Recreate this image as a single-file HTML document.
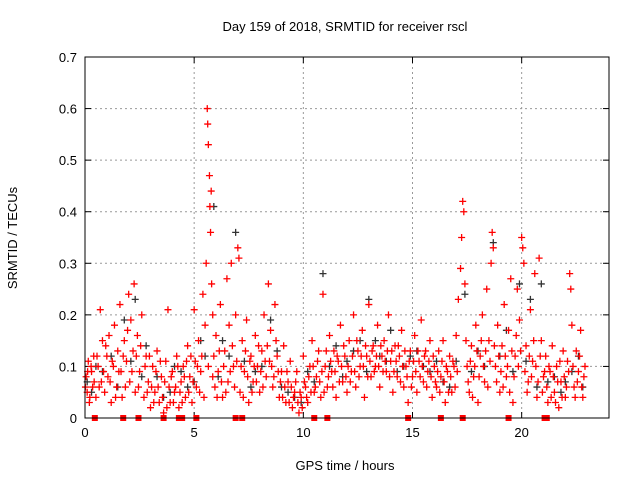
<!DOCTYPE html>
<html><head><meta charset="utf-8">
<style>
html,body{margin:0;padding:0;background:#fff;}
svg{display:block;font-family:"Liberation Sans",sans-serif;}
</style></head>
<body>
<svg id="chart" width="640" height="480" viewBox="0 0 640 480" xmlns="http://www.w3.org/2000/svg">
<rect x="0" y="0" width="640" height="480" fill="#fff"/>
<text x="345" y="31" font-size="13" text-anchor="middle">Day 159 of 2018, SRMTID for receiver rscl</text>
<text x="345" y="470" font-size="13" text-anchor="middle">GPS time / hours</text>
<text transform="translate(17,238) rotate(-90)" font-size="13" text-anchor="middle">SRMTID / TECUs</text>
<g id="grid"></g>
<g id="ticks"></g>
<g id="black-series"></g>
<g id="red-series"></g>
<g id="zero-series"></g>
<rect x="85" y="57" width="524" height="361" fill="none" stroke="#000" stroke-width="1"/>
</svg>
<script>
const xTicks = [0, 5, 10, 15, 20];
const yTicks = [0, 0.1, 0.2, 0.3, 0.4, 0.5, 0.6, 0.7];
const yTickLabels = ["0", "0.1", "0.2", "0.3", "0.4", "0.5", "0.6", "0.7"];
const redSamples = [[0.05,.08],[0.1,.05],[0.15,.11],[0.2,.03],[0.3,.09],[0.35,.06],[0.4,.12],[0.5,.04],[0.6,.1],[0.7,.21],[0.75,.07],[0.8,.15],[0.9,.05],[1.0,.12],[1.05,.08],[1.1,.16],[1.2,.03],[1.3,.1],[1.35,.18],[1.45,.06],[1.5,.13],[1.6,.22],[1.65,.09],[1.7,.04],[1.8,.15],[1.9,.11],[2.0,.24],[2.05,.07],[2.1,.19],[2.2,.13],[2.25,.26],[2.3,.05],[2.4,.16],[2.5,.09],[2.6,.2],[2.7,.04],[2.8,.12],[2.9,.07],[3.0,.02],[3.1,.1],[3.2,.05],[3.3,.13],[3.4,.03],[3.5,.08],[3.6,.01],[3.7,.11],[3.8,.21],[3.85,.06],[3.9,.03],[4.0,.09],[4.1,.05],[4.2,.12],[4.3,.02],[4.4,.07],[4.5,.1],[4.6,.04],[4.7,.14],[4.8,.08],[4.9,.03],[5.0,.21],[5.05,.11],[5.1,.06],[5.2,.15],[5.3,.09],[5.4,.24],[5.45,.04],[5.5,.18],[5.55,.3],[5.6,.6],[5.62,.57],[5.65,.53],[5.7,.47],[5.72,.41],[5.75,.36],[5.78,.44],[5.8,.26],[5.85,.2],[5.9,.12],[5.95,.06],[6.0,.16],[6.1,.09],[6.2,.22],[6.3,.04],[6.4,.13],[6.5,.27],[6.55,.07],[6.6,.18],[6.7,.3],[6.8,.1],[6.9,.2],[7.0,.33],[7.05,.31],[7.1,.05],[7.2,.15],[7.3,.09],[7.4,.19],[7.5,.03],[7.6,.12],[7.7,.07],[7.8,.16],[7.9,.1],[8.0,.05],[8.1,.13],[8.2,.2],[8.3,.08],[8.4,.26],[8.45,.11],[8.5,.17],[8.6,.06],[8.7,.22],[8.8,.12],[8.9,.04],[9.0,.09],[9.1,.14],[9.2,.03],[9.3,.07],[9.4,.11],[9.5,.02],[9.6,.05],[9.7,.09],[9.8,.01],[9.9,.04],[10.0,.12],[10.1,.06],[10.2,.03],[10.3,.1],[10.4,.15],[10.5,.05],[10.6,.08],[10.7,.13],[10.8,.04],[10.9,.24],[11.0,.1],[11.1,.06],[11.2,.16],[11.3,.09],[11.4,.13],[11.5,.04],[11.6,.11],[11.7,.18],[11.8,.07],[11.9,.12],[12.0,.05],[12.1,.15],[12.2,.09],[12.3,.2],[12.4,.06],[12.5,.13],[12.6,.1],[12.7,.17],[12.8,.04],[12.9,.12],[13.0,.22],[13.1,.08],[13.2,.14],[13.3,.1],[13.4,.18],[13.5,.06],[13.6,.12],[13.7,.15],[13.8,.09],[13.9,.2],[14.0,.11],[14.1,.05],[14.2,.14],[14.3,.08],[14.4,.12],[14.5,.17],[14.6,.06],[14.7,.1],[14.8,.03],[14.9,.13],[15.0,.08],[15.1,.16],[15.2,.05],[15.3,.11],[15.4,.19],[15.5,.07],[15.6,.13],[15.7,.09],[15.8,.15],[15.9,.04],[16.0,.1],[16.1,.06],[16.2,.13],[16.3,.08],[16.4,.15],[16.5,.03],[16.6,.09],[16.7,.12],[16.8,.05],[16.9,.1],[17.0,.16],[17.1,.23],[17.2,.29],[17.25,.35],[17.3,.42],[17.35,.4],[17.4,.26],[17.5,.1],[17.6,.05],[17.7,.14],[17.8,.08],[17.9,.18],[18.0,.03],[18.1,.12],[18.2,.2],[18.3,.07],[18.4,.25],[18.5,.15],[18.6,.3],[18.65,.36],[18.7,.33],[18.8,.1],[18.9,.18],[19.0,.05],[19.1,.14],[19.2,.22],[19.3,.08],[19.4,.17],[19.5,.27],[19.6,.03],[19.7,.12],[19.8,.25],[19.9,.19],[20.0,.35],[20.05,.33],[20.1,.3],[20.2,.14],[20.3,.07],[20.4,.21],[20.5,.11],[20.6,.28],[20.7,.04],[20.8,.31],[20.9,.15],[21.0,.08],[21.1,.12],[21.2,.03],[21.3,.09],[21.4,.14],[21.5,.05],[21.6,.1],[21.7,.02],[21.8,.07],[21.9,.13],[22.0,.04],[22.1,.11],[22.2,.28],[22.25,.25],[22.3,.18],[22.4,.06],[22.5,.13],[22.6,.09],[22.7,.17],[22.8,.04],[22.9,.1],
[0.02,.06],[0.12,.09],[0.22,.04],[0.28,.1],[0.42,.07],[0.55,.12],[0.65,.06],[0.85,.09],[0.95,.14],[1.15,.07],[1.25,.11],[1.4,.04],[1.55,.09],[1.75,.12],[1.85,.06],[1.95,.17],[2.15,.09],[2.35,.12],[2.45,.06],[2.55,.14],[2.75,.1],[2.85,.05],[2.95,.12],[3.05,.06],[3.15,.03],[3.25,.09],[3.35,.06],[3.45,.11],[3.55,.04],[3.65,.07],[3.75,.02],[3.95,.08],[4.05,.03],[4.15,.06],[4.25,.1],[4.35,.05],[4.45,.03],[4.55,.08],[4.65,.11],[4.75,.05],[4.85,.12],[4.95,.07],[5.15,.1],[5.25,.05],[5.35,.12],[5.65,.1],[5.85,.08],[6.05,.04],[6.15,.13],[6.25,.07],[6.35,.1],[6.45,.05],[6.65,.09],[6.75,.14],[6.85,.06],[6.95,.11],[7.15,.1],[7.25,.04],[7.35,.13],[7.45,.08],[7.55,.11],[7.65,.05],[7.75,.1],[7.85,.07],[7.95,.14],[8.05,.09],[8.15,.06],[8.25,.11],[8.35,.14],[8.55,.1],[8.65,.08],[8.75,.15],[8.85,.09],[8.95,.07],[9.05,.04],[9.15,.06],[9.25,.09],[9.35,.03],[9.45,.06],[9.55,.04],[9.65,.07],[9.75,.03],[9.85,.05],[9.95,.02],[10.05,.07],[10.15,.04],[10.25,.08],[10.35,.05],[10.45,.1],[10.55,.06],[10.65,.11],[10.75,.07],[10.85,.09],[10.95,.05],[11.05,.13],[11.15,.08],[11.25,.11],[11.35,.06],[11.45,.09],[11.55,.12],[11.65,.07],[11.75,.1],[11.85,.14],[11.95,.08],[12.05,.1],[12.15,.07],[12.25,.12],[12.35,.09],[12.45,.15],[12.55,.08],[12.65,.12],[12.75,.1],[12.85,.14],[12.95,.08],[13.05,.11],[13.15,.13],[13.25,.09],[13.35,.12],[13.45,.1],[13.55,.14],[13.65,.09],[13.75,.11],[13.85,.13],[13.95,.08],[14.05,.13],[14.15,.09],[14.25,.11],[14.35,.14],[14.45,.07],[14.55,.1],[14.65,.13],[14.75,.08],[14.85,.11],[14.95,.06],[15.05,.11],[15.15,.09],[15.25,.13],[15.35,.08],[15.45,.1],[15.55,.12],[15.65,.06],[15.75,.11],[15.85,.08],[15.95,.12],[16.05,.07],[16.15,.09],[16.25,.05],[16.35,.11],[16.45,.07],[16.55,.1],[16.65,.05],[16.75,.08],[16.85,.11],[16.95,.06],[17.05,.09],[17.45,.15],[17.55,.07],[17.65,.11],[17.75,.04],[17.85,.1],[17.95,.13],[18.05,.08],[18.15,.15],[18.25,.1],[18.35,.13],[18.45,.06],[18.55,.11],[18.75,.14],[18.85,.07],[18.95,.12],[19.05,.09],[19.15,.06],[19.25,.12],[19.35,.1],[19.45,.05],[19.55,.13],[19.65,.08],[19.75,.16],[19.85,.1],[19.95,.13],[20.15,.09],[20.25,.05],[20.35,.12],[20.45,.08],[20.55,.15],[20.65,.1],[20.75,.07],[20.85,.12],[20.95,.05],[21.05,.09],[21.15,.06],[21.25,.1],[21.35,.04],[21.45,.08],[21.55,.03],[21.65,.07],[21.75,.11],[21.85,.04],[21.95,.08],[22.05,.06],[22.15,.09],[22.35,.1],[22.45,.04],[22.55,.07],[22.65,.12],[22.75,.06],[22.85,.08]];
const blackSamples = [[0.1,.07],[0.3,.05],[0.5,.1],[0.8,.09],[1.2,.12],[1.5,.06],[1.8,.19],[2.1,.11],[2.3,.23],[2.6,.08],[2.8,.14],[3.3,.08],[3.6,.04],[3.9,.05],[4.1,.1],[4.4,.09],[4.7,.06],[5.0,.07],[5.3,.15],[5.5,.12],[5.9,.41],[6.1,.08],[6.3,.15],[6.6,.12],[6.9,.36],[7.3,.11],[7.6,.06],[7.8,.09],[8.1,.1],[8.5,.19],[8.8,.13],[9.0,.06],[9.3,.05],[9.6,.04],[9.9,.03],[10.2,.09],[10.5,.07],[10.9,.28],[11.2,.1],[11.5,.14],[11.8,.08],[12.0,.11],[12.3,.13],[12.6,.15],[12.9,.09],[13.0,.23],[13.3,.15],[13.5,.12],[13.8,.11],[14.0,.17],[14.3,.09],[14.6,.1],[14.9,.12],[15.2,.13],[15.5,.1],[15.8,.09],[16.1,.11],[16.4,.07],[16.7,.06],[17.0,.11],[17.4,.24],[17.7,.09],[18.0,.13],[18.3,.1],[18.7,.34],[19.0,.12],[19.3,.17],[19.6,.09],[19.9,.26],[20.2,.11],[20.4,.23],[20.7,.06],[20.9,.26],[21.2,.07],[21.5,.08],[21.8,.05],[22.0,.07],[22.3,.09],[22.6,.12],[22.8,.06]];
const zeroTimes = [0.45, 1.75, 2.45, 3.6, 4.3, 4.45, 5.1, 6.9, 7.2, 10.5, 11.1, 14.8, 16.3, 17.3, 19.4, 21.05, 21.15];

const NS = "http://www.w3.org/2000/svg";
const X0 = 85, X1 = 609, Y0 = 418, Y1 = 57, XMAX = 24, YMAX = 0.7;
function xScale(t){ return X0 + (t / XMAX) * (X1 - X0); }
function yScale(v){ return Y0 - (v / YMAX) * (Y0 - Y1); }
function mk(tag, attrs){ const e = document.createElementNS(NS, tag); for (const k in attrs) e.setAttribute(k, attrs[k]); return e; }

const grid = document.getElementById('grid');
const ticks = document.getElementById('ticks');
xTicks.forEach(t => {
  const x = xScale(t);
  if (t > 0) {
    const g = mk('line', {x1:x, y1:Y1, x2:x, y2:Y0, stroke:'#999', 'stroke-dasharray':'2,3', 'stroke-width':1});
    
    
    grid.appendChild(g);
  }
  const tk = mk('line', {x1:x, y1:Y0, x2:x, y2:Y0-6, stroke:'#000'});
  
  
  ticks.appendChild(tk);
  const tk2 = mk('line', {x1:x, y1:Y1, x2:x, y2:Y1+6, stroke:'#000'});
  
  
  ticks.appendChild(tk2);
  const lb = mk('text', {x:x, y:Y0+19, 'font-size':13, 'text-anchor':'middle'});
  lb.textContent = String(t);
  
  
  ticks.appendChild(lb);
});
yTicks.forEach((v, i) => {
  const y = yScale(v);
  if (v > 0 && v < YMAX) {
    const g = mk('line', {x1:X0, y1:y, x2:X1, y2:y, stroke:'#999', 'stroke-dasharray':'2,3', 'stroke-width':1});
    
    
    grid.appendChild(g);
  }
  const tk = mk('line', {x1:X0, y1:y, x2:X0+6, y2:y, stroke:'#000'});
  
  
  ticks.appendChild(tk);
  const tk2 = mk('line', {x1:X1, y1:y, x2:X1-6, y2:y, stroke:'#000'});
  
  
  ticks.appendChild(tk2);
  const lb = mk('text', {x:X0-8, y:y+5, 'font-size':13, 'text-anchor':'end'});
  lb.textContent = yTickLabels[i];
  
  
  ticks.appendChild(lb);
});

function plus(group, t, v, color, name){
  const x = xScale(t), y = yScale(v), r = 3.5;
  const p = mk('path', {d:`M${x-r},${y}H${x+r}M${x},${y-r}V${y+r}`, stroke:color, 'stroke-width':1.3, fill:'none'});
  
  
  group.appendChild(p);
}
const bg = document.getElementById('black-series');
blackSamples.forEach(s => plus(bg, s[0], s[1], '#333', 'black-point'));
const rg = document.getElementById('red-series');
redSamples.forEach(s => plus(rg, s[0], s[1], '#f00', 'red-point'));
const zg = document.getElementById('zero-series');
zeroTimes.forEach(t => {
  const x = xScale(t), y = yScale(0);
  const r = mk('rect', {x:x-3, y:y-3, width:6, height:6, fill:'#f00'});
  
  
  zg.appendChild(r);
});
</script>
</body></html>
